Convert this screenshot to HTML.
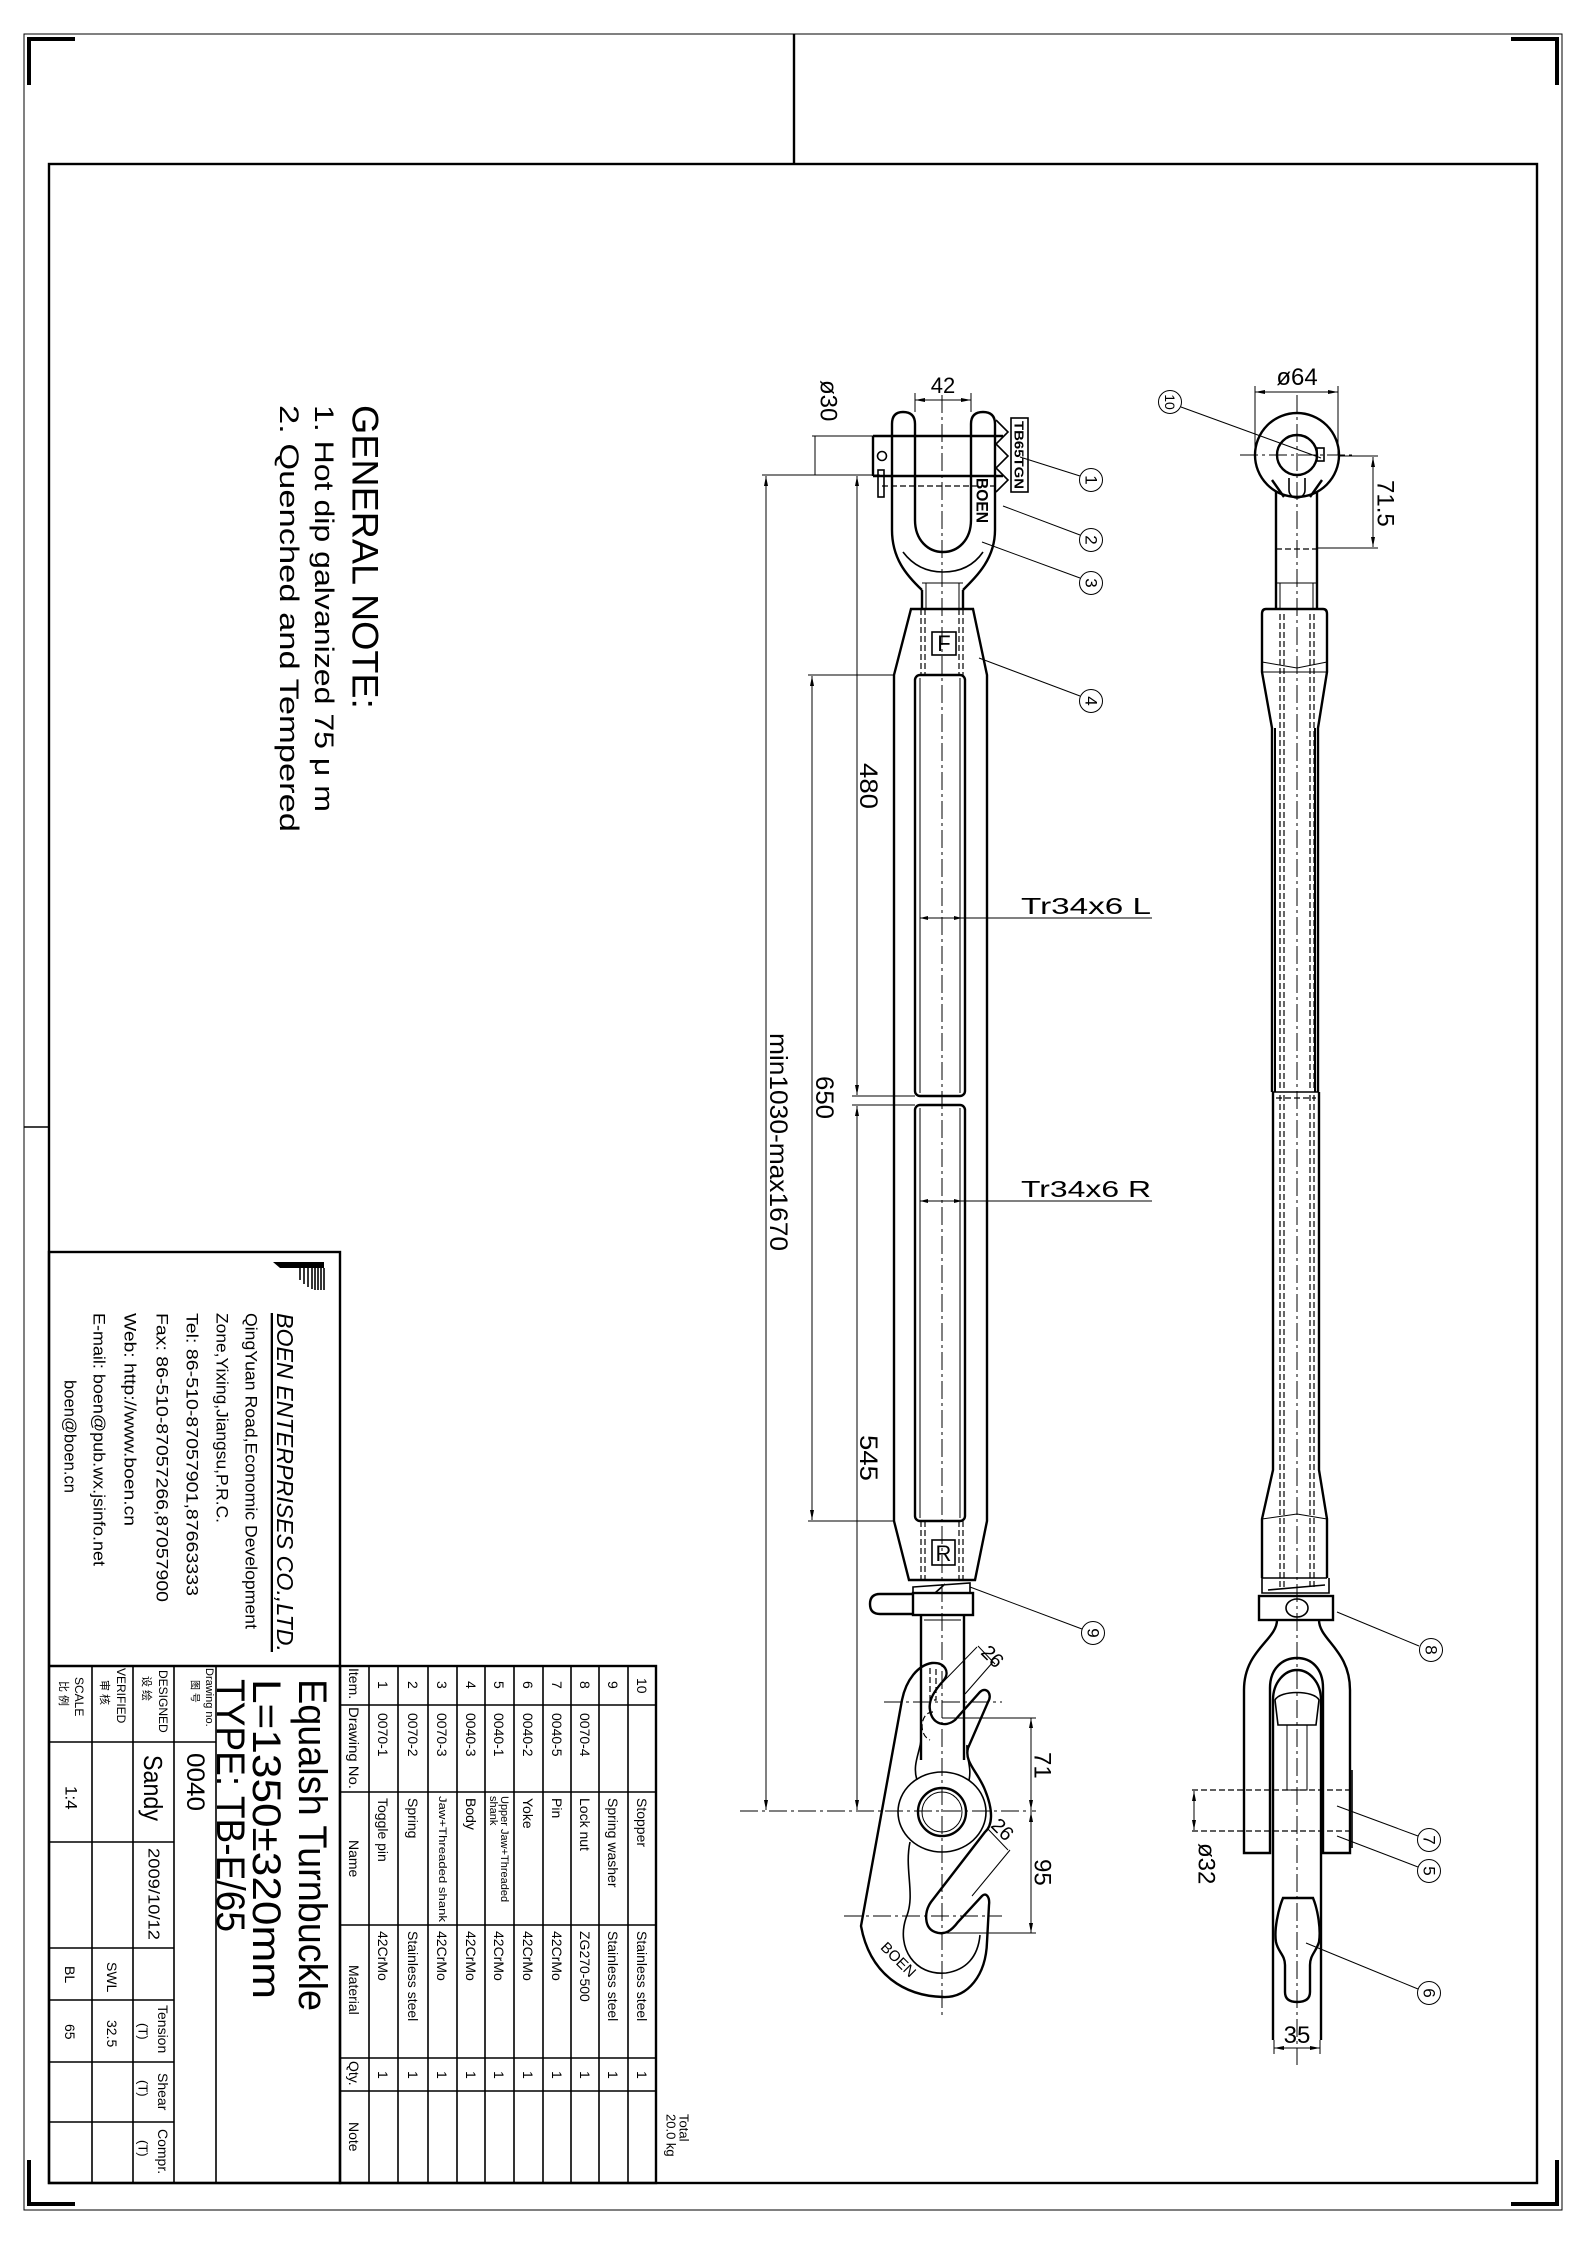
<!DOCTYPE html>
<html><head><meta charset="utf-8"><style>
html,body{margin:0;padding:0;background:#fff}
svg{display:block}
text{font-family:"Liberation Sans","Noto Sans CJK SC",sans-serif;fill:#000}
.k{stroke:#000;fill:none;stroke-width:2.4}
.t{stroke:#000;fill:none;stroke-width:1}
.m{stroke:#000;fill:none;stroke-width:1.6}
.c{stroke:#000;fill:none;stroke-width:1;stroke-dasharray:18 4 3 4}
.d{stroke:#000;fill:none;stroke-width:1.2;stroke-dasharray:6 3}
.dim{font-size:22px}
</style></head><body>
<svg width="1587" height="2245" viewBox="0 0 1587 2245" xmlns="http://www.w3.org/2000/svg">
<defs>
<marker id="a" viewBox="0 0 10 10" refX="10" refY="5" markerWidth="10" markerHeight="10" orient="auto-start-reverse" markerUnits="userSpaceOnUse"><path d="M0,3 L10,5 L0,7 z" fill="#000"/></marker>
</defs>
<rect width="1587" height="2245" fill="#fff"/>
<!-- frames -->
<rect x="24" y="34" width="1538" height="2176" class="t" stroke-width="1.5"/>
<rect x="49" y="164" width="1488" height="2019" class="k" stroke-width="3"/>
<line x1="794" y1="34" x2="794" y2="164" class="k"/>
<line x1="24" y1="1127" x2="49" y2="1127" class="m"/>
<path d="M29,85 V39 H75" stroke="#000" stroke-width="4" fill="none"/>
<path d="M1511,39 H1557 V85" stroke="#000" stroke-width="4" fill="none"/>
<path d="M29,2160 V2204 H75" stroke="#000" stroke-width="4" fill="none"/>
<path d="M1511,2204 H1557 V2160" stroke="#000" stroke-width="4" fill="none"/>

<!-- general note -->
<text transform="translate(365,405) rotate(90)" dominant-baseline="central" font-size="37" textLength="304" lengthAdjust="spacingAndGlyphs">GENERAL NOTE:</text>
<text transform="translate(324,405) rotate(90)" dominant-baseline="central" font-size="27" textLength="407" lengthAdjust="spacingAndGlyphs">1. Hot dip galvanized   75 μ m</text>
<text transform="translate(289,405) rotate(90)" dominant-baseline="central" font-size="27" textLength="427" lengthAdjust="spacingAndGlyphs">2. Quenched  and  Tempered</text>

<!-- title block -->
<g class="k">
<rect x="49" y="1252" width="291" height="931"/>
<line x1="49" y1="1666" x2="340" y2="1666"/>
<rect x="340" y="1666" width="316" height="517"/>
</g>
<g class="m">
<line x1="216" y1="1666" x2="216" y2="2183"/>
<line x1="174" y1="1666" x2="174" y2="2183"/>
<line x1="133" y1="1666" x2="133" y2="2183"/>
<line x1="92" y1="1666" x2="92" y2="2183"/>
<line x1="49" y1="1742" x2="216" y2="1742"/>
<line x1="49" y1="1842" x2="174" y2="1842"/>
<line x1="49" y1="1948" x2="174" y2="1948"/>
<line x1="49" y1="2000" x2="174" y2="2000"/>
<line x1="49" y1="2062" x2="174" y2="2062"/>
<line x1="49" y1="2122" x2="174" y2="2122"/>
<!-- parts list -->
<line x1="369" y1="1666" x2="369" y2="2183"/>
<line x1="398" y1="1666" x2="398" y2="2183"/>
<line x1="428" y1="1666" x2="428" y2="2183"/>
<line x1="457" y1="1666" x2="457" y2="2183"/>
<line x1="485" y1="1666" x2="485" y2="2183"/>
<line x1="514" y1="1666" x2="514" y2="2183"/>
<line x1="543" y1="1666" x2="543" y2="2183"/>
<line x1="571" y1="1666" x2="571" y2="2183"/>
<line x1="599" y1="1666" x2="599" y2="2183"/>
<line x1="628" y1="1666" x2="628" y2="2183"/>
<line x1="340" y1="1705" x2="656" y2="1705"/>
<line x1="340" y1="1792" x2="656" y2="1792"/>
<line x1="340" y1="1925" x2="656" y2="1925"/>
<line x1="340" y1="2058" x2="656" y2="2058"/>
<line x1="340" y1="2091" x2="656" y2="2091"/>
</g>
<g font-size="14" dominant-baseline="central">
<text transform="translate(354,1668) rotate(90)">Item.</text>
<text transform="translate(354,1707) rotate(90)" textLength="82" lengthAdjust="spacingAndGlyphs">Drawing  No.</text>
<text transform="translate(354,1840) rotate(90)">Name</text>
<text transform="translate(354,1965) rotate(90)">Material</text>
<text transform="translate(354,2061) rotate(90)">Qty.</text>
<text transform="translate(354,2122) rotate(90)">Note</text>
</g>
<g font-size="14" dominant-baseline="central">
<text transform="translate(383,1681) rotate(90)">1</text><text transform="translate(383,1713) rotate(90)">0070-1</text><text transform="translate(383,1798) rotate(90)">Toggle  pin</text><text transform="translate(383,1931) rotate(90)">42CrMo</text><text transform="translate(383,2071) rotate(90)">1</text>
<text transform="translate(413,1681) rotate(90)">2</text><text transform="translate(413,1713) rotate(90)">0070-2</text><text transform="translate(413,1798) rotate(90)">Spring</text><text transform="translate(413,1931) rotate(90)">Stainless  steel</text><text transform="translate(413,2071) rotate(90)">1</text>
<text transform="translate(442,1681) rotate(90)">3</text><text transform="translate(442,1713) rotate(90)">0070-3</text><text transform="translate(442,1796) rotate(90)" font-size="11" textLength="126" lengthAdjust="spacingAndGlyphs">Jaw+Threaded  shank</text><text transform="translate(442,1931) rotate(90)">42CrMo</text><text transform="translate(442,2071) rotate(90)">1</text>
<text transform="translate(471,1681) rotate(90)">4</text><text transform="translate(471,1713) rotate(90)">0040-3</text><text transform="translate(471,1798) rotate(90)">Body</text><text transform="translate(471,1931) rotate(90)">42CrMo</text><text transform="translate(471,2071) rotate(90)">1</text>
<text transform="translate(499,1681) rotate(90)">5</text><text transform="translate(499,1713) rotate(90)">0040-1</text><text transform="translate(504,1796) rotate(90)" font-size="11">Upper  Jaw+Threaded</text><text transform="translate(493,1796) rotate(90)" font-size="11">shank</text><text transform="translate(499,1931) rotate(90)">42CrMo</text><text transform="translate(499,2071) rotate(90)">1</text>
<text transform="translate(528,1681) rotate(90)">6</text><text transform="translate(528,1713) rotate(90)">0040-2</text><text transform="translate(528,1798) rotate(90)">Yoke</text><text transform="translate(528,1931) rotate(90)">42CrMo</text><text transform="translate(528,2071) rotate(90)">1</text>
<text transform="translate(557,1681) rotate(90)">7</text><text transform="translate(557,1713) rotate(90)">0040-5</text><text transform="translate(557,1798) rotate(90)">Pin</text><text transform="translate(557,1931) rotate(90)">42CrMo</text><text transform="translate(557,2071) rotate(90)">1</text>
<text transform="translate(585,1681) rotate(90)">8</text><text transform="translate(585,1713) rotate(90)">0070-4</text><text transform="translate(585,1798) rotate(90)">Lock  nut</text><text transform="translate(585,1931) rotate(90)">ZG270-500</text><text transform="translate(585,2071) rotate(90)">1</text>
<text transform="translate(613,1681) rotate(90)">9</text><text transform="translate(613,1798) rotate(90)">Spring  washer</text><text transform="translate(613,1931) rotate(90)">Stainless  steel</text><text transform="translate(613,2071) rotate(90)">1</text>
<text transform="translate(642,1678) rotate(90)">10</text><text transform="translate(642,1798) rotate(90)">Stopper</text><text transform="translate(642,1931) rotate(90)">Stainless  steel</text><text transform="translate(642,2071) rotate(90)">1</text>
<text transform="translate(684,2114) rotate(90)" font-size="13">Total</text>
<text transform="translate(671,2114) rotate(90)" font-size="13">20.0  kg</text>
</g>
<!-- title texts -->
<g dominant-baseline="central">
<text transform="translate(312,1679) rotate(90)" font-size="40" textLength="332" lengthAdjust="spacingAndGlyphs">Equalsh  Turnbuckle</text>
<text transform="translate(266,1679) rotate(90)" font-size="40" textLength="320" lengthAdjust="spacingAndGlyphs">L=1350±320mm</text>
<text transform="translate(230,1679) rotate(90)" font-size="40" textLength="253" lengthAdjust="spacingAndGlyphs">TYPE:  TB-E/65</text>
<text transform="translate(209,1668) rotate(90)" font-size="11">Drawing no.</text>
<text transform="translate(194,1680) rotate(90)" font-size="10" fill="#555">图 号</text>
<text transform="translate(195,1753) rotate(90)" font-size="25" textLength="58" lengthAdjust="spacingAndGlyphs">0040</text>
<text transform="translate(163,1670) rotate(90)" font-size="12">DESIGNED</text>
<text transform="translate(146,1676) rotate(90)" font-size="11" fill="#555">设 绘</text>
<text transform="translate(153,1755) rotate(90)" font-size="26" textLength="66" lengthAdjust="spacingAndGlyphs">Sandy</text>
<text transform="translate(153,1848) rotate(90)" font-size="16" textLength="92" lengthAdjust="spacingAndGlyphs">2009/10/12</text>
<text transform="translate(121,1668) rotate(90)" font-size="12">VERIFIED</text>
<text transform="translate(104,1680) rotate(90)" font-size="11" fill="#555">审 核</text>
<text transform="translate(79,1677) rotate(90)" font-size="12">SCALE</text>
<text transform="translate(63,1681) rotate(90)" font-size="11" fill="#555">比 例</text>
<text transform="translate(71,1786) rotate(90)" font-size="17">1:4</text>
<text transform="translate(112,1962) rotate(90)" font-size="14">SWL</text>
<text transform="translate(70,1966) rotate(90)" font-size="14">BL</text>
<text transform="translate(112,2020) rotate(90)" font-size="14">32.5</text>
<text transform="translate(70,2024) rotate(90)" font-size="14">65</text>
<text transform="translate(163,2005) rotate(90)" font-size="14">Tension</text>
<text transform="translate(143,2023) rotate(90)" font-size="13">(T)</text>
<text transform="translate(163,2073) rotate(90)" font-size="14">Shear</text>
<text transform="translate(143,2080) rotate(90)" font-size="13">(T)</text>
<text transform="translate(163,2129) rotate(90)" font-size="14">Compr.</text>
<text transform="translate(143,2140) rotate(90)" font-size="13">(T)</text>
<!-- company -->
<text transform="translate(285,1313) rotate(90)" font-family="Liberation Serif, serif" font-style="italic" font-size="23" textLength="339" lengthAdjust="spacingAndGlyphs" text-decoration="underline">BOEN ENTERPRISES CO.,LTD.</text>
<text transform="translate(251,1313) rotate(90)" font-size="17" textLength="316" lengthAdjust="spacingAndGlyphs">QingYuan  Road,Economic  Development</text>
<text transform="translate(222,1313) rotate(90)" font-size="17" textLength="210" lengthAdjust="spacingAndGlyphs">Zone,Yixing,Jiangsu,P.R.C.</text>
<text transform="translate(192,1313) rotate(90)" font-size="17" textLength="283" lengthAdjust="spacingAndGlyphs">Tel:  86-510-87057901,87663333</text>
<text transform="translate(162,1313) rotate(90)" font-size="17" textLength="289" lengthAdjust="spacingAndGlyphs">Fax:  86-510-87057266,87057900</text>
<text transform="translate(130,1313) rotate(90)" font-size="17" textLength="213" lengthAdjust="spacingAndGlyphs">Web:  http://www.boen.cn</text>
<text transform="translate(99,1313) rotate(90)" font-size="17" textLength="253" lengthAdjust="spacingAndGlyphs">E-mail:  boen@pub.wx.jsinfo.net</text>
<text transform="translate(70,1380) rotate(90)" font-size="17" textLength="113" lengthAdjust="spacingAndGlyphs">boen@boen.cn</text>
</g>
<!-- logo -->
<polygon points="273,1262 324,1262 324,1268 280,1268" fill="#000"/>
<g stroke="#000" stroke-width="1.6">
<line x1="300" y1="1268" x2="300" y2="1280"/><line x1="304" y1="1268" x2="304" y2="1284"/><line x1="308" y1="1268" x2="308" y2="1287"/><line x1="312" y1="1268" x2="312" y2="1289"/><line x1="315" y1="1268" x2="315" y2="1290"/><line x1="318" y1="1268" x2="318" y2="1290"/><line x1="321" y1="1268" x2="321" y2="1290"/><line x1="324" y1="1268" x2="324" y2="1290"/>
</g>

<!-- ===== FRONT VIEW ===== -->
<line x1="942" y1="395" x2="942" y2="2015" class="c"/>
<!-- jaw -->
<path class="k" d="M922,590 C906,575 892,558 892,530 V424 Q892,412 903,412 Q915,412 915,424 V520 C915,540 928,552 943,552 C958,552 971,540 971,520 V424 Q971,412 983,412 Q995,412 995,424 V530 C995,558 978,575 963,590"/>
<path class="m" d="M903,552 C915,568 930,572 943,572 C956,572 972,568 983,552"/>
<path class="k" d="M922,590 V609 M963,590 V609"/>
<line x1="922" y1="583" x2="963" y2="583" class="t"/>
<line x1="926" y1="583" x2="926" y2="609" class="t"/><line x1="959" y1="583" x2="959" y2="609" class="t"/>
<!-- pin -->
<path class="k" d="M873,436 H1003 M873,476 H1003 M873,436 V476"/>
<circle cx="882" cy="456" r="4.5" class="m"/>
<rect x="878" y="470" width="6" height="27" class="m"/>
<line x1="882" y1="486" x2="995" y2="486" class="d"/>
<path class="m" d="M996,420 L1008,432 L996,444 L1008,456 L996,468 L1008,480 L996,492"/>
<rect x="1011" y="418" width="17" height="74" class="m"/>
<text transform="translate(1019,421) rotate(90)" dominant-baseline="central" font-size="13" font-weight="bold" textLength="68" lengthAdjust="spacingAndGlyphs">TB65TGN</text>
<text transform="translate(982,478) rotate(90)" dominant-baseline="central" font-size="17" font-weight="bold" textLength="45" lengthAdjust="spacingAndGlyphs">BOEN</text>
<!-- 42 dim -->
<line x1="915" y1="400" x2="971" y2="400" class="t" marker-start="url(#a)" marker-end="url(#a)"/>
<line x1="915" y1="393" x2="915" y2="412" class="t"/><line x1="971" y1="393" x2="971" y2="412" class="t"/>
<text x="943" y="393" text-anchor="middle" class="dim" font-size="24">42</text>
<!-- ø30 -->
<line x1="815" y1="436" x2="815" y2="475" class="t"/>
<line x1="812" y1="436" x2="873" y2="436" class="t"/>
<text transform="translate(828,380) rotate(90)" dominant-baseline="central" font-size="24">ø30</text>
<!-- body -->
<path class="k" d="M911,609 H973 L987,675 V1521 L975,1580 H909 L894,1521 V675 Z"/>
<rect x="915" y="675" width="50" height="421" rx="5" class="k"/>
<rect x="915" y="1105" width="50" height="416" rx="5" class="k"/>
<line x1="920" y1="678" x2="920" y2="1093" class="t"/><line x1="960" y1="678" x2="960" y2="1093" class="t"/>
<line x1="920" y1="1108" x2="920" y2="1518" class="t"/><line x1="960" y1="1108" x2="960" y2="1518" class="t"/>
<g class="d" stroke-width="1"><line x1="921" y1="609" x2="921" y2="675"/><line x1="925" y1="609" x2="925" y2="675"/><line x1="959" y1="609" x2="959" y2="675"/><line x1="963" y1="609" x2="963" y2="675"/>
<line x1="921" y1="1521" x2="921" y2="1580"/><line x1="925" y1="1521" x2="925" y2="1580"/><line x1="959" y1="1521" x2="959" y2="1580"/><line x1="963" y1="1521" x2="963" y2="1580"/></g>
<rect x="932" y="632" width="24" height="23" class="m"/>
<text x="944" y="651" text-anchor="middle" font-size="22">F</text>
<rect x="932" y="1540" width="23" height="25" class="m"/>
<text x="943.5" y="1561" text-anchor="middle" font-size="22">R</text>
<!-- Tr labels -->
<line x1="920" y1="918" x2="1152" y2="918" class="t"/>
<line x1="920" y1="1201" x2="1152" y2="1201" class="t"/>
<path d="M920,918 l8,-2 v4 z M962,918 l-8,-2 v4 z M920,1201 l8,-2 v4 z M962,1201 l-8,-2 v4 z" fill="#000"/>
<text x="1021" y="914" font-size="23" textLength="130" lengthAdjust="spacingAndGlyphs">Tr34x6  L</text>
<text x="1021" y="1197" font-size="23" textLength="130" lengthAdjust="spacingAndGlyphs">Tr34x6  R</text>
<!-- washer, locknut -->
<path class="m" d="M913,1587 L970,1583 V1593 H913 Z M935,1593 L945,1584"/>
<rect x="913" y="1593" width="60" height="22" class="k"/>
<path class="k" d="M913,1594 H880 Q870,1594 870,1604 Q870,1614 880,1614 H913"/>
<!-- shank -->
<path class="k" d="M921,1615 V1760 M964,1615 V1760"/>
<line x1="924" y1="1620" x2="961" y2="1620" class="t"/>
<!-- hook -->
<path class="k" d="M902,1700 C906,1680 918,1665 932,1663 C945,1662 950,1672 944,1680 C935,1690 928,1700 930,1710 C932,1724 945,1728 955,1720 L980,1692 C986,1686 993,1694 988,1702 L968,1748 C964,1762 978,1772 985,1790 C994,1812 992,1826 985,1832 L931,1902 C924,1912 924,1928 935,1932 C945,1936 952,1930 958,1922 L982,1896 C986,1892 990,1897 989,1905 L987,1942 C986,1975 968,1998 943,1997 C905,1996 870,1975 861,1926 Z"/>
<ellipse cx="942" cy="1812" rx="44" ry="40" class="m"/>
<circle cx="942" cy="1812" r="24" class="k"/>
<circle cx="942" cy="1812" r="20" class="t"/>
<path class="m" d="M910,1842 C904,1870 916,1895 906,1918 C896,1948 915,1976 946,1973 C966,1970 978,1957 980,1935"/>
<path class="m" d="M917,1780 C912,1765 920,1752 921,1740 M969,1780 C972,1768 966,1757 967,1745"/>
<path class="d" d="M930,1668 V1700 H936 V1668 M933,1712 C920,1712 918,1735 930,1740"/>
<text transform="translate(898,1960) rotate(45)" text-anchor="middle" font-size="15" dominant-baseline="central">BOEN</text>
<line x1="884" y1="1702" x2="1002" y2="1702" class="c"/>
<line x1="844" y1="1916" x2="1002" y2="1916" class="c"/>
<line x1="740" y1="1811" x2="1036" y2="1811" class="c"/>
<!-- 71 / 95 -->
<line x1="942" y1="1718" x2="1036" y2="1718" class="t"/>
<line x1="942" y1="1933" x2="1036" y2="1933" class="t"/>
<line x1="1031" y1="1718" x2="1031" y2="1810" class="t" marker-start="url(#a)" marker-end="url(#a)"/>
<line x1="1031" y1="1812" x2="1031" y2="1933" class="t" marker-start="url(#a)" marker-end="url(#a)"/>
<text transform="translate(1042,1752) rotate(90)" dominant-baseline="central" font-size="24">71</text>
<text transform="translate(1042,1859) rotate(90)" dominant-baseline="central" font-size="24">95</text>
<!-- 26 dims -->
<line x1="977" y1="1647" x2="942" y2="1683" class="t"/>
<line x1="993" y1="1662" x2="965" y2="1694" class="t"/>
<line x1="978" y1="1646" x2="995" y2="1664" class="t"/>
<text transform="translate(992,1657) rotate(45)" dominant-baseline="central" text-anchor="middle" font-size="20">26</text>
<line x1="1010" y1="1850" x2="972" y2="1896" class="t"/>
<line x1="987" y1="1828" x2="1008" y2="1850" class="t"/>
<text transform="translate(1002,1830) rotate(45)" dominant-baseline="central" text-anchor="middle" font-size="20">26</text>
<!-- left dims -->
<line x1="762" y1="475" x2="880" y2="475" class="t"/>
<line x1="808" y1="675" x2="894" y2="675" class="t"/>
<line x1="852" y1="1096" x2="915" y2="1096" class="t"/>
<line x1="852" y1="1105" x2="915" y2="1105" class="t"/>
<line x1="808" y1="1521" x2="894" y2="1521" class="t"/>
<line x1="766" y1="476" x2="766" y2="1810" class="t" marker-start="url(#a)" marker-end="url(#a)"/>
<line x1="812" y1="676" x2="812" y2="1520" class="t" marker-start="url(#a)" marker-end="url(#a)"/>
<line x1="857" y1="476" x2="857" y2="1095" class="t" marker-start="url(#a)" marker-end="url(#a)"/>
<line x1="857" y1="1106" x2="857" y2="1810" class="t" marker-start="url(#a)" marker-end="url(#a)"/>
<text transform="translate(778,1033) rotate(90)" dominant-baseline="central" font-size="25" textLength="218" lengthAdjust="spacingAndGlyphs">min1030-max1670</text>
<text transform="translate(824,1076) rotate(90)" dominant-baseline="central" font-size="25" textLength="43" lengthAdjust="spacingAndGlyphs">650</text>
<text transform="translate(868,763) rotate(90)" dominant-baseline="central" font-size="25" textLength="46" lengthAdjust="spacingAndGlyphs">480</text>
<text transform="translate(868,1435) rotate(90)" dominant-baseline="central" font-size="25" textLength="46" lengthAdjust="spacingAndGlyphs">545</text>

<!-- ===== SIDE VIEW ===== -->
<line x1="1297" y1="395" x2="1297" y2="2065" class="c"/>
<line x1="1240" y1="455" x2="1355" y2="455" class="c"/>
<circle cx="1297" cy="455" r="42" class="k"/>
<circle cx="1297" cy="455" r="20" class="k"/>
<rect x="1317" y="448" width="7" height="13" class="m"/>
<path class="k" d="M1272,480 L1284,497 M1322,480 L1310,497"/>
<path class="m" d="M1289,478 V490 A8,8 0 0 0 1305,490 V478"/>
<path class="k" d="M1276,492 V609 M1317,492 V609"/>
<line x1="1276" y1="549" x2="1317" y2="549" class="d"/>
<line x1="1276" y1="583" x2="1317" y2="583" class="t"/>
<line x1="1280" y1="583" x2="1280" y2="609" class="t"/><line x1="1313" y1="583" x2="1313" y2="609" class="t"/>
<!-- upper hex + rod -->
<path class="k" d="M1266,609 H1323 Q1327,609 1327,614 V672 L1318,728 V1092 M1266,609 Q1262,609 1262,614 V672 L1272,728 V1092"/>
<line x1="1262" y1="672" x2="1327" y2="672" class="t"/>
<path class="t" d="M1262,662 L1297,668 L1327,662"/>
<line x1="1275" y1="728" x2="1275" y2="1092" stroke="#000" stroke-width="2"/>
<line x1="1315" y1="728" x2="1315" y2="1092" stroke="#000" stroke-width="2"/>
<g class="d" stroke-width="1"><line x1="1280" y1="614" x2="1280" y2="1090"/><line x1="1284" y1="614" x2="1284" y2="1090"/><line x1="1310" y1="614" x2="1310" y2="1090"/><line x1="1314" y1="614" x2="1314" y2="1090"/>
<line x1="1280" y1="1095" x2="1280" y2="1590"/><line x1="1284" y1="1095" x2="1284" y2="1590"/><line x1="1310" y1="1095" x2="1310" y2="1590"/><line x1="1314" y1="1095" x2="1314" y2="1590"/></g>
<line x1="1272" y1="1092" x2="1318" y2="1092" class="m"/>
<line x1="1276" y1="1098" x2="1316" y2="1098" class="d"/>
<path class="k" d="M1273,1092 V1470 L1262,1519 V1578 M1319,1092 V1470 L1327,1519 V1578"/>
<path class="t" d="M1262,1519 L1297,1514 L1327,1519"/>
<line x1="1262" y1="1578" x2="1327" y2="1578" class="m"/>
<path class="m" d="M1262,1578 V1593 H1329 V1578 M1268,1590 L1325,1585"/>
<rect x="1259" y="1596" width="74" height="24" class="k"/>
<ellipse cx="1297" cy="1608" rx="11" ry="9" class="m"/>
<!-- yoke -->
<path class="k" d="M1277,1620 C1277,1640 1244,1650 1244,1690 V1853 H1270 V1688 C1270,1668 1283,1658 1297,1658 C1311,1658 1323,1668 1323,1688 V1853 H1350 V1690 C1350,1650 1319,1640 1319,1620"/>
<line x1="1352" y1="1770" x2="1352" y2="1848" class="m"/>
<path class="k" d="M1273,1700 C1273,1682 1285,1670 1297,1670 C1309,1670 1321,1682 1321,1700 V2040 M1273,1700 V2040"/>
<path class="m" d="M1275,1700 C1280,1690 1314,1690 1319,1700 L1316,1725 H1278 Z"/>
<rect x="1287" y="1725" width="20" height="65" class="t"/>
<line x1="1192" y1="1790" x2="1352" y2="1790" class="d"/>
<line x1="1192" y1="1831" x2="1352" y2="1831" class="d"/>
<line x1="1194" y1="1791" x2="1194" y2="1830" class="t" marker-start="url(#a)" marker-end="url(#a)"/>
<text transform="translate(1206,1843) rotate(90)" dominant-baseline="central" font-size="24">ø32</text>
<path class="k" d="M1283,1898 H1313 C1318,1910 1321,1930 1319,1942 C1316,1952 1310,1955 1310,1965 V1992 Q1310,2002 1297,2002 Q1285,2002 1285,1992 V1965 C1285,1955 1278,1952 1276,1942 C1274,1930 1278,1910 1283,1898 Z"/>
<line x1="1274" y1="2040" x2="1274" y2="2054" class="t"/><line x1="1320" y1="2040" x2="1320" y2="2054" class="t"/>
<line x1="1274" y1="2048" x2="1320" y2="2048" class="t" marker-start="url(#a)" marker-end="url(#a)"/>
<text x="1297" y="2043" text-anchor="middle" font-size="24">35</text>
<!-- ø64 / 71.5 -->
<line x1="1255" y1="386" x2="1255" y2="455" class="t"/><line x1="1338" y1="386" x2="1338" y2="455" class="t"/>
<line x1="1255" y1="392" x2="1338" y2="392" class="t" marker-start="url(#a)" marker-end="url(#a)"/>
<text x="1297" y="385" text-anchor="middle" font-size="24">ø64</text>
<line x1="1338" y1="456" x2="1378" y2="456" class="t"/>
<line x1="1317" y1="548" x2="1378" y2="548" class="t"/>
<line x1="1373" y1="457" x2="1373" y2="547" class="t" marker-start="url(#a)" marker-end="url(#a)"/>
<text transform="translate(1385,480) rotate(90)" dominant-baseline="central" font-size="24">71.5</text>

<!-- leaders -->
<g class="t">
<line x1="1020" y1="457" x2="1080" y2="476"/>
<line x1="1003" y1="506" x2="1080" y2="535"/>
<line x1="982" y1="542" x2="1080" y2="578"/>
<line x1="979" y1="658" x2="1080" y2="696"/>
<line x1="970" y1="1587" x2="1082" y2="1629"/>
<line x1="1181" y1="407" x2="1321" y2="458"/>
<line x1="1337" y1="1612" x2="1419" y2="1646"/>
<line x1="1337" y1="1806" x2="1418" y2="1836"/>
<line x1="1337" y1="1836" x2="1418" y2="1867"/>
<line x1="1306" y1="1943" x2="1418" y2="1989"/>
</g>
<g class="t">
<circle cx="1091" cy="480" r="11.5"/><circle cx="1091" cy="540" r="11.5"/><circle cx="1091" cy="583" r="11.5"/><circle cx="1091" cy="701" r="11.5"/><circle cx="1093" cy="1633" r="11.5"/><circle cx="1170" cy="402" r="11.5"/><circle cx="1431" cy="1650" r="11.5"/><circle cx="1429" cy="1840" r="11.5"/><circle cx="1429" cy="1871" r="11.5"/><circle cx="1429" cy="1993" r="11.5"/>
</g>
<g font-size="17" text-anchor="middle" dominant-baseline="central">
<text transform="translate(1091,480) rotate(90)">1</text><text transform="translate(1091,540) rotate(90)">2</text><text transform="translate(1091,583) rotate(90)">3</text><text transform="translate(1091,701) rotate(90)">4</text><text transform="translate(1093,1633) rotate(90)">9</text><text transform="translate(1170,402) rotate(90)" font-size="14">10</text><text transform="translate(1431,1650) rotate(90)">8</text><text transform="translate(1429,1840) rotate(90)">7</text><text transform="translate(1429,1871) rotate(90)">5</text><text transform="translate(1429,1993) rotate(90)">6</text>
</g>
</svg>
</body></html>
